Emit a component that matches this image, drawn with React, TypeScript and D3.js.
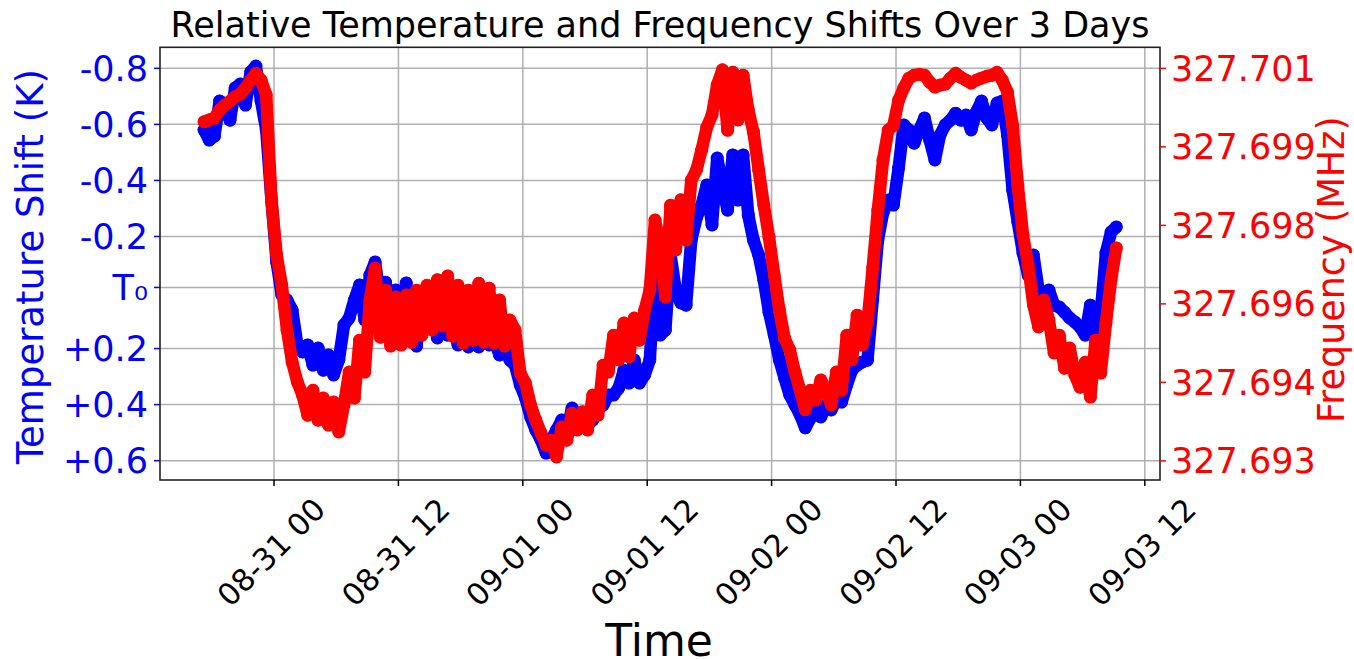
import * as d3 from 'd3';

// sampling: every 30 minutes starting 08-30 17:15
const startTime = new Date(2024, 7, 30, 17, 15);
const stepMinutes = 30;

// temperature shift (K), relative to T0
const tempShift = [
  -0.580, -0.544, -0.558, -0.683, -0.673, -0.615, -0.730, -0.744, -0.669, -0.787,
  -0.808, -0.683, -0.580, -0.330, -0.109, 0.009, 0.027, 0.062, 0.187, 0.212,
  0.187, 0.259, 0.198, 0.277, 0.223, 0.294, 0.241, 0.116, 0.091, 0.027,
  -0.027, 0.098, -0.062, -0.109, 0.027, -0.037, 0.062, -0.009, 0.098, -0.034,
  0.134, 0.191, 0.027, 0.116, 0.062, 0.162, 0.098, 0.152, 0.116, 0.187,
  0.134, 0.194, 0.134, 0.194, 0.152, 0.187, 0.169, 0.223, 0.187, 0.241,
  0.259, 0.330, 0.376, 0.444, 0.491, 0.526, 0.573, 0.526, 0.491, 0.455,
  0.491, 0.412, 0.437, 0.455, 0.473, 0.455, 0.419, 0.401, 0.366, 0.366,
  0.341, 0.277, 0.323, 0.241, 0.323, 0.294, 0.241, -0.070, 0.152, 0.134,
  -0.134, -0.009, 0.037, 0.045, -0.187, -0.266, -0.312, -0.384, -0.241, -0.480,
  -0.384, -0.294, -0.491, -0.330, -0.491, -0.276, -0.187, -0.134, -0.045, 0.070,
  0.152, 0.241, 0.305, 0.366, 0.401, 0.437, 0.483, 0.448, 0.426, 0.444,
  0.401, 0.419, 0.384, 0.391, 0.330, 0.277, 0.259, 0.248, 0.241, 0.027,
  -0.187, -0.284, -0.330, -0.312, -0.444, -0.598, -0.580, -0.533, -0.580, -0.623,
  -0.544, -0.473, -0.562, -0.598, -0.615, -0.640, -0.615, -0.633, -0.580, -0.644,
  -0.683, -0.623, -0.598, -0.676, -0.683, -0.562, -0.366, -0.252, -0.141, -0.062,
  -0.134, -0.009, 0.027, -0.009, 0.045, 0.052, 0.070, 0.091, 0.105, 0.123,
  0.152, 0.045, 0.134, 0.073, -0.141, -0.216, -0.234,
];

// frequency (MHz)
const frequency = [
  327.69971, 327.69975, 327.69979, 327.69995, 327.70005, 327.70013, 327.70022, 327.70028, 327.70040, 327.70056,
  327.70070, 327.70056, 327.70026, 327.69812, 327.69700, 327.69638, 327.69547, 327.69481, 327.69441, 327.69414,
  327.69373, 327.69424, 327.69363, 327.69408, 327.69353, 327.69400, 327.69339, 327.69394, 327.69461, 327.69408,
  327.69526, 327.69461, 327.69608, 327.69673, 327.69532, 327.69628, 327.69514, 327.69614, 327.69516, 327.69618,
  327.69522, 327.69628, 327.69536, 327.69638, 327.69547, 327.69649, 327.69555, 327.69657, 327.69534, 327.69638,
  327.69520, 327.69628, 327.69526, 327.69642, 327.69522, 327.69632, 327.69520, 327.69608, 327.69514, 327.69567,
  327.69547, 327.69459, 327.69439, 327.69394, 327.69363, 327.69337, 327.69312, 327.69322, 327.69288, 327.69349,
  327.69322, 327.69377, 327.69343, 327.69380, 327.69343, 327.69414, 327.69373, 327.69475, 327.69461, 327.69536,
  327.69486, 327.69561, 327.69492, 327.69571, 327.69526, 327.69587, 327.69628, 327.69771, 327.69720, 327.69614,
  327.69801, 327.69710, 327.69812, 327.69730, 327.69852, 327.69873, 327.69914, 327.69960, 327.69985, 327.70046,
  327.70077, 327.69954, 327.70072, 327.69975, 327.70066, 327.69995, 327.69950, 327.69873, 327.69801, 327.69736,
  327.69659, 327.69587, 327.69530, 327.69506, 327.69461, 327.69424, 327.69384, 327.69424, 327.69404, 327.69445,
  327.69424, 327.69394, 327.69461, 327.69424, 327.69536, 327.69486, 327.69577, 327.69516, 327.69563, 327.69673,
  327.69791, 327.69893, 327.69954, 327.69964, 327.70015, 327.70040, 327.70060, 327.70066, 327.70068, 327.70066,
  327.70052, 327.70042, 327.70046, 327.70048, 327.70060, 327.70070, 327.70062, 327.70056, 327.70050, 327.70056,
  327.70060, 327.70064, 327.70066, 327.70072, 327.70056, 327.70032, 327.69964, 327.69842, 327.69740, 327.69679,
  327.69598, 327.69553, 327.69608, 327.69567, 327.69500, 327.69536, 327.69469, 327.69510, 327.69455, 327.69430,
  327.69481, 327.69410, 327.69526, 327.69459, 327.69561, 327.69649, 327.69714,
];

// axis limits and ticks
const timeLimits = [new Date(2024, 7, 30, 13, 0), new Date(2024, 8, 3, 13, 28)];
const tempLimits = [-0.875, 0.669];
const freqLimits = [327.69241, 327.70123];
const tempTicks = [-0.8, -0.6, -0.4, -0.2, -0.018, 0.2, 0.4, 0.6];
const tempTickLabels = ['-0.8', '-0.6', '-0.4', '-0.2', 'T\u2080', '+0.2', '+0.4', '+0.6'];
const freqTicks = [327.7008, 327.6992, 327.6976, 327.696, 327.6944, 327.6928];

const times = tempShift.map((_, i) => new Date(startTime.getTime() + i * stepMinutes * 60000));

const FONT = '"DejaVu Sans", Verdana, sans-serif';

export default function App() {
  const width = 1354;
  const height = 659;
  const plot = { left: 160, right: 1160, top: 47.3, bottom: 480 };

  const x = d3.scaleTime().domain(timeLimits).range([plot.left, plot.right]);
  const yT = d3.scaleLinear().domain(tempLimits).range([plot.top, plot.bottom]);
  const yF = d3.scaleLinear().domain(freqLimits).range([plot.bottom, plot.top]);

  const xTicks = x.ticks(d3.timeHour.every(12));
  const fmtTime = d3.timeFormat('%m-%d %H');
  const fmtFreq = d3.format('.3f');

  const tempLine = d3.line<number>().x((_, i) => x(times[i])).y(d => yT(d));
  const freqLine = d3.line<number>().x((_, i) => x(times[i])).y(d => yF(d));

  const labelY = (plot.top + plot.bottom) / 2 + 3;
  const markR = 6.5;

  return (
    <div style={{ position: 'absolute', left: 0, top: 0 }}>
      <svg width={width} height={height} style={{ display: 'block', background: '#fff' }}>
        <defs>
          <clipPath id="plotClip">
            <rect x={plot.left} y={plot.top} width={plot.right - plot.left} height={plot.bottom - plot.top} />
          </clipPath>
        </defs>

        {/* grid */}
        <g stroke="#b0b0b0" strokeWidth={1.5}>
          {xTicks.map(t => (
            <line key={+t} x1={x(t)} x2={x(t)} y1={plot.top} y2={plot.bottom} />
          ))}
          {tempTicks.map(v => (
            <line key={v} x1={plot.left} x2={plot.right} y1={yT(v)} y2={yT(v)} />
          ))}
        </g>

        <g clipPath="url(#plotClip)">
          {/* temperature */}
          <path d={tempLine(tempShift) || ''} fill="none" stroke="#0000ff" strokeWidth={12.5}
            strokeLinejoin="round" strokeLinecap="round" />
          {tempShift.map((d, i) => (
            <circle key={i} cx={x(times[i])} cy={yT(d)} r={markR} fill="#0000ff" />
          ))}
          {/* frequency */}
          <path d={freqLine(frequency) || ''} fill="none" stroke="#ff0000" strokeWidth={12.5}
            strokeLinejoin="round" strokeLinecap="round" />
          {frequency.map((d, i) => (
            <circle key={i} cx={x(times[i])} cy={yF(d)} r={markR} fill="#ff0000" />
          ))}
        </g>

        {/* frame */}
        <rect x={plot.left} y={plot.top} width={plot.right - plot.left} height={plot.bottom - plot.top}
          fill="none" stroke="#222" strokeWidth={1.6} />

        {/* left axis */}
        <g fontFamily={FONT} fontSize={35} fill="#0000ff">
          {tempTicks.map((v, i) => (
            <g key={v}>
              <line x1={plot.left - 6} x2={plot.left} y1={yT(v)} y2={yT(v)} stroke="#0000ff" strokeWidth={1.5} />
              <text x={plot.left - 12} y={yT(v)} dy="0.36em" textAnchor="end">{tempTickLabels[i]}</text>
            </g>
          ))}
        </g>

        {/* right axis */}
        <g fontFamily={FONT} fontSize={35} fill="#ff0000">
          {freqTicks.map(v => (
            <g key={v}>
              <line x1={plot.right} x2={plot.right + 6} y1={yF(v)} y2={yF(v)} stroke="#ff0000" strokeWidth={1.5} />
              <text x={plot.right + 11} y={yF(v)} dy="0.36em" textAnchor="start">{fmtFreq(v)}</text>
            </g>
          ))}
        </g>

        {/* bottom axis */}
        <g fontFamily={FONT} fontSize={30.5} fill="#000">
          {xTicks.map(t => {
            const cx = x(t) - 3;
            const cy = 552;
            return (
              <g key={+t}>
                <line x1={x(t)} x2={x(t)} y1={plot.bottom} y2={plot.bottom + 6} stroke="#000" strokeWidth={1.5} />
                <text x={cx} y={cy} dy="0.36em" textAnchor="middle" transform={`rotate(-45, ${cx}, ${cy})`}>
                  {fmtTime(t)}
                </text>
              </g>
            );
          })}
        </g>

        {/* labels */}
        <text x={(plot.left + plot.right) / 2} y={37} textAnchor="middle" fontFamily={FONT} fontSize={35} fill="#000">
          Relative Temperature and Frequency Shifts Over 3 Days
        </text>
        <text x={(plot.left + plot.right) / 2 - 1} y={656} textAnchor="middle" fontFamily={FONT} fontSize={44} fill="#000">
          Time
        </text>
        <text transform={`translate(42.5, ${labelY}) rotate(-90)`} textAnchor="middle" fontFamily={FONT} fontSize={37} fill="#0000ff">
          Temperature Shift (K)
        </text>
        <text transform={`translate(1343.5, ${labelY + 3}) rotate(-90)`} textAnchor="middle" fontFamily={FONT} fontSize={36.5} fill="#ff0000">
          Frequency (MHz)
        </text>
      </svg>
    </div>
  );
}
